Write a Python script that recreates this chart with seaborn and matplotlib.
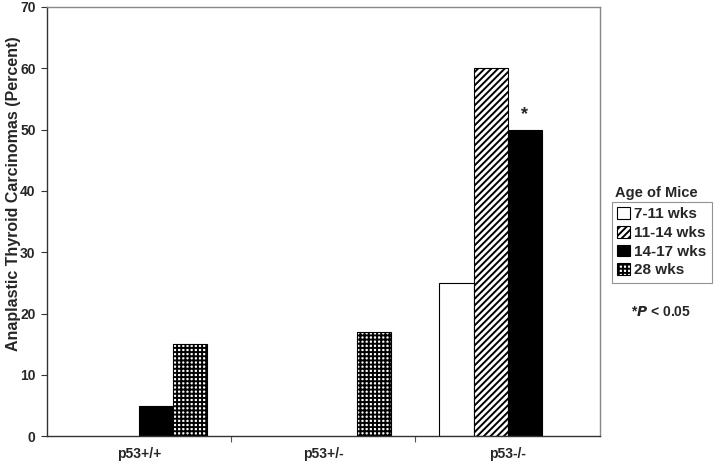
import matplotlib
matplotlib.use("Agg")
import matplotlib.pyplot as plt
from matplotlib.patches import Patch
import pandas as pd
import seaborn as sns

# data
GENOTYPES = ["p53+/+", "p53+/-", "p53-/-"]
AGES = ["7-11 wks", "11-14 wks", "14-17 wks", "28 wks"]
VALUES = {
    "7-11 wks": [0, 0, 25],
    "11-14 wks": [0, 0, 60],
    "14-17 wks": [5, 0, 50],
    "28 wks": [15, 17, 0],
}
Y_TICKS = [0, 10, 20, 30, 40, 50, 60, 70]

FACES = ["white", "white", "black", "white"]
HATCHES = [None, "/////", None, "++++"]

rows = []
for age in AGES:
    for g, v in zip(GENOTYPES, VALUES[age]):
        rows.append({"genotype": g, "age": age, "pct": v})
df = pd.DataFrame(rows)

sns.set_style("white")
plt.rcParams["font.family"] = ["Liberation Sans", "DejaVu Sans"]
plt.rcParams["font.weight"] = "bold"
plt.rcParams["hatch.linewidth"] = 1.4

fig = plt.figure(figsize=(7.2, 4.66), dpi=100)
ax = fig.add_axes([0.065, 0.064, 0.768, 0.921])

sns.barplot(
    data=df, x="genotype", y="pct", hue="age", order=GENOTYPES,
    hue_order=AGES, width=0.74, ax=ax, legend=False, saturation=1,
    edgecolor="black", linewidth=0.8,
)
for cont, fc, h in zip(ax.containers, FACES, HATCHES):
    for bar in cont:
        bar.set_facecolor(fc)
        bar.set_edgecolor("black")
        if h:
            bar.set_hatch(h)
        if bar.get_height() == 0:
            bar.set_visible(False)

# significance star above the 14-17 wks bar of p53-/-
star_bar = ax.containers[2][2]
ax.text(star_bar.get_x() + star_bar.get_width() / 2, star_bar.get_height() + 1.0,
        "*", ha="center", va="bottom", fontsize=13, fontweight="bold")

ax.set_ylim(0, 70)
ax.set_xlim(-0.5, 2.5)
ax.set_yticks(Y_TICKS)
ax.set_xlabel("")
ax.set_ylabel("Anaplastic Thyroid Carcinomas (Percent)", fontsize=11.5,
              fontweight="bold")
ax.yaxis.set_label_coords(-0.047, 0.566)
ax.tick_params(axis="y", which="major", direction="out", length=4,
               width=0.8, labelsize=10, left=True, color="#333333", pad=4)
ax.tick_params(axis="x", which="major", length=0, labelsize=10, pad=8)
ax.set_xticks([0.5, 1.5], minor=True)
ax.tick_params(axis="x", which="minor", direction="out", length=4,
               width=0.8, bottom=True, color="#555555")
for side in ["left", "bottom"]:
    ax.spines[side].set_color("#333333")
    ax.spines[side].set_linewidth(1.0)
for side in ["top", "right"]:
    ax.spines[side].set_color("#888888")
    ax.spines[side].set_linewidth(1.0)

handles = [
    Patch(facecolor=fc, edgecolor="black", hatch=h, linewidth=0.8, label=a)
    for a, fc, h in zip(AGES, FACES, HATCHES)
]
fig.text(0.911, 0.586, "Age of Mice", ha="center", va="center",
         fontsize=10.5, fontweight="bold")
leg = fig.legend(
    handles=handles, loc="upper left", bbox_to_anchor=(0.85, 0.567),
    frameon=True, fancybox=False, edgecolor="#777777", fontsize=11,
    handlelength=0.8, handleheight=0.8, handletextpad=0.3,
    labelspacing=0.3, borderpad=0.35, borderaxespad=0,
)
leg.get_frame().set_linewidth(0.8)
fig.text(0.918, 0.33, "*$\\boldsymbol{P}$ < 0.05", ha="center", va="center",
         fontsize=10, fontweight="bold")

fig.savefig("out.png", dpi=100, facecolor="white")
